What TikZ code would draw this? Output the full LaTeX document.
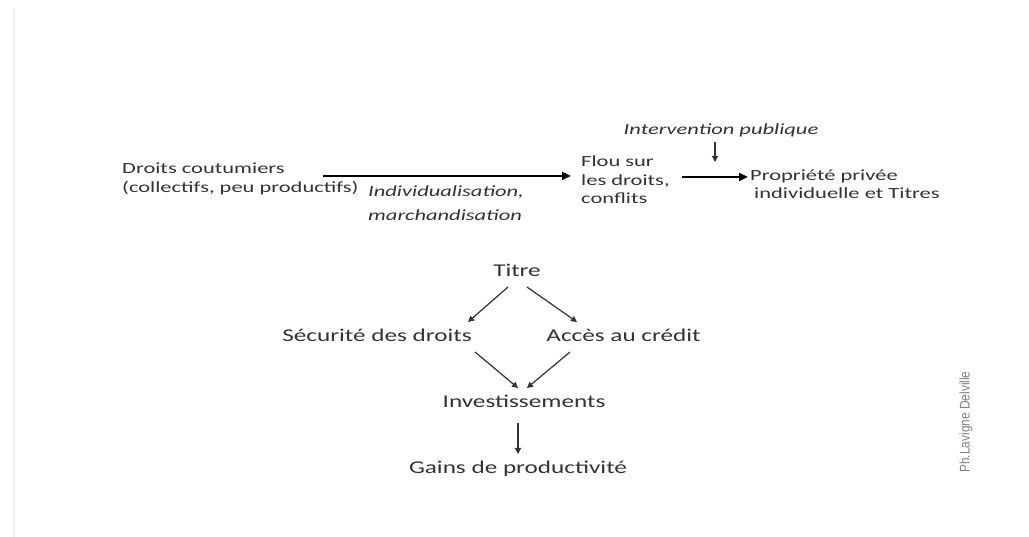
\documentclass[tikz,border=0pt]{standalone}
\usepackage{fontspec}
\setmainfont{Carlito}[FakeStretch=1.45]
\newfontfamily\treefont{Carlito}[FakeStretch=1.4]
\newfontfamily\signfont{Liberation Sans}[FakeStretch=0.85]
\usetikzlibrary{arrows.meta}
\definecolor{ink}{HTML}{333333}
\begin{document}
\begin{tikzpicture}[x=1pt,y=-1pt,
  txt/.style={inner sep=0pt, text=ink, align=left},
  itx/.style={txt, font=\fontsize{15.5}{24}\selectfont\itshape},
  tree/.style={inner sep=0pt, text=ink, anchor=base, font=\treefont\fontsize{18}{20}\selectfont},
  thick arrow/.style={line width=2.8pt, -{Triangle[length=9pt,width=8pt]}, draw=black},
  thin arrow/.style={line width=1.2pt, -{Triangle[length=6pt,width=6pt]}, draw=ink}]
\useasboundingbox (0,0) rectangle (1029,537);
\fill[white] (0,0) rectangle (1029,537);
% faint margin rule on the left
\draw[black!7, line width=2pt] (14,8) -- (14,537);

% upper chain
\node[txt, anchor=north west, font=\fontsize{15.5}{19}\selectfont] (cout) at (122,162.5) {Droits coutumiers\\(collectifs, peu productifs)};
\node[txt, anchor=north west, font=\fontsize{15.5}{18.5}\selectfont] (flou) at (581,156) {Flou sur\\les droits,\\conflits};
\node[txt, anchor=north west, font=\fontsize{15.5}{18}\selectfont] (prop) at (750,170) {Propriété privée\\\hspace{4pt}individuelle et Titres};
\node[itx, anchor=north west] (indiv) at (368,186) {Individualisation,\\marchandisation};
\node[itx, anchor=base] (interv) at (721,135) {Intervention publique};

\coordinate (a1s) at (323,176);
\coordinate (a1e) at (571,176);
\coordinate (a2s) at (682,177);
\coordinate (a2e) at (748,177);
\coordinate (ips) at (715,142);
\coordinate (ipe) at (715,162);
\draw[thick arrow] (a1s) -- (a1e);
\draw[thick arrow] (a2s) -- (a2e);
\draw[thin arrow] (ips) -- (ipe);

% lower tree
\node[tree] (titre) at (517,277) {Titre};
\node[tree] (secu) at (377,342) {Sécurité des droits};
\node[tree] (acces) at (623.5,342) {Accès au crédit};
\node[tree] (inv) at (524,408) {Investissements};
\node[tree] (gains) at (518,473) {Gains de productivité};

\coordinate (t1) at (508,287);
\coordinate (t2) at (527,287);
\coordinate (s1) at (475,352);
\coordinate (c1) at (570,352);
\coordinate (i1) at (518,423);
\draw[thin arrow] (t1) -- (468,322);
\draw[thin arrow] (t2) -- (577,322);
\draw[thin arrow] (s1) -- (518,388);
\draw[thin arrow] (c1) -- (527,388);
\draw[thin arrow] (i1) -- (518,454);

% signature
\node[inner sep=0pt, text=black!50, rotate=90, font=\signfont\fontsize{14}{16}\selectfont] (sig) at (966,422) {Ph.Lavigne Delville};
\end{tikzpicture}
\end{document}
